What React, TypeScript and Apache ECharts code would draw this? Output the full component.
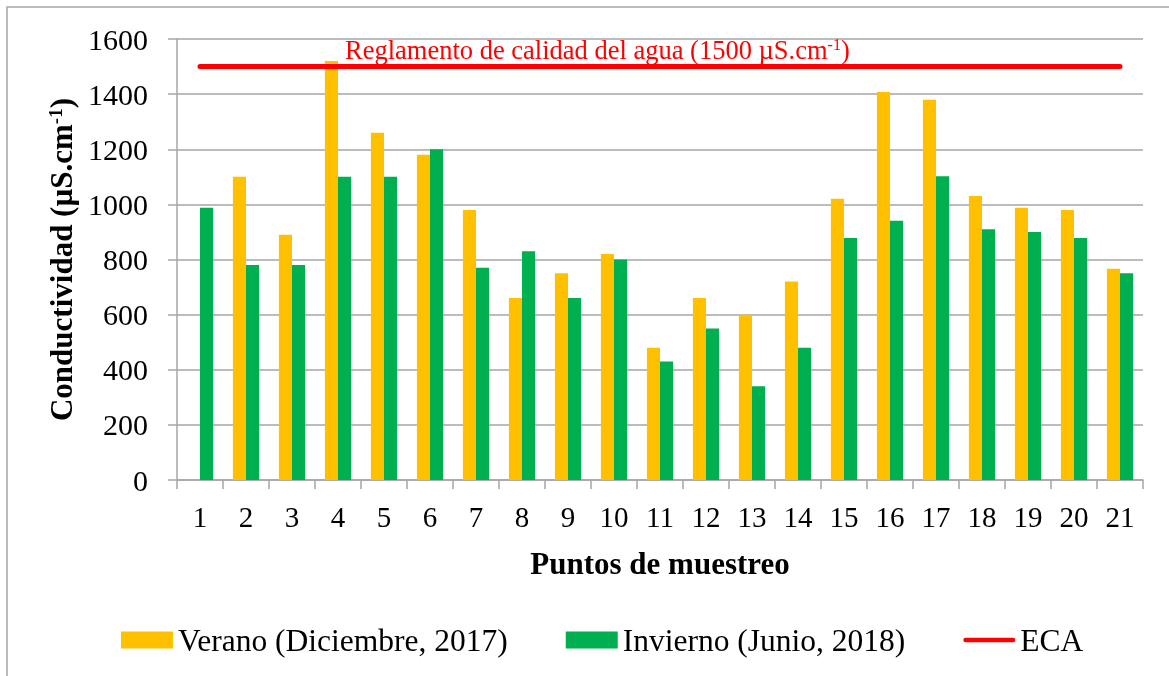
import React, { useEffect, useRef } from "react";
import * as echarts from "echarts";

const categories = ["1","2","3","4","5","6","7","8","9","10","11","12","13","14","15","16","17","18","19","20","21"];
const verano = [null, 1100, 890, 1520, 1260, 1180, 980, 660, 750, 820, 480, 660, 600, 720, 1020, 1408, 1380, 1030, 988, 980, 766];
const invierno = [988, 780, 780, 1100, 1100, 1200, 770, 830, 660, 800, 430, 550, 340, 480, 878, 941, 1102, 910, 900, 878, 750];
const ecaValue = 1500;
const eca = categories.map(() => ecaValue);
const yTicks = { min: 0, max: 1600, interval: 200 };

const FONT = '"Liberation Serif", "Times New Roman", serif';
const LINE_ICON = "path://M0,0 L0,0 M0,6 L52,6 A2.5,2.5 0 0 1 52,11 L0,11 A2.5,2.5 0 0 1 0,6 Z M52,17 L52,17";

export default function App() {
  const ref = useRef<HTMLDivElement>(null);
  useEffect(() => {
    if (!ref.current) return;
    const chart = echarts.init(ref.current, undefined, { renderer: "svg" });
    chart.setOption({
      animation: false,
      textStyle: { fontFamily: FONT, color: "#000" },
      grid: { left: 177, right: 26, top: 39, bottom: 196 },
      legend: {
        left: 116,
        top: 619,
        itemWidth: 52,
        itemHeight: 17,
        itemGap: 58,
        textStyle: { fontFamily: FONT, fontSize: 31.5, color: "#000" },
        data: [
          { name: "Verano (Diciembre, 2017)", icon: "rect" },
          { name: "Invierno (Junio, 2018)", icon: "rect" },
          { name: "ECA", icon: LINE_ICON },
        ],
      },
      xAxis: {
        type: "category",
        data: categories,
        boundaryGap: true,
        name: "Puntos de muestreo",
        nameLocation: "middle",
        nameGap: 68,
        nameTextStyle: { fontFamily: FONT, fontSize: 31, fontWeight: "bold", color: "#000" },
        axisLine: { show: true, lineStyle: { color: "#A6A6A6", width: 1.5 } },
        axisTick: { show: true, alignWithLabel: false, length: 9, lineStyle: { color: "#A6A6A6", width: 1.5 } },
        axisLabel: { fontFamily: FONT, fontSize: 29, color: "#000", margin: 22 },
      },
      yAxis: {
        type: "value",
        min: yTicks.min,
        max: yTicks.max,
        interval: yTicks.interval,
        name: "Conductividad (µS.cm{sup|-1})",
        nameLocation: "middle",
        nameGap: 98,
        nameTextStyle: {
          fontFamily: FONT,
          fontSize: 31,
          fontWeight: "bold",
          color: "#000",
          rich: {
            sup: { fontFamily: FONT, fontSize: 19, fontWeight: "bold", color: "#000", verticalAlign: "top", padding: [0, 0, 12, 0] },
          },
        },
        axisLine: { show: true, lineStyle: { color: "#A6A6A6", width: 1.5 } },
        axisTick: { show: true, length: 9, lineStyle: { color: "#A6A6A6", width: 1.5 } },
        splitLine: { show: true, lineStyle: { color: "#A6A6A6", width: 1.5 } },
        axisLabel: { fontFamily: FONT, fontSize: 30, color: "#000", margin: 29, formatter: (v: number) => String(v) },
      },
      series: [
        {
          name: "Verano (Diciembre, 2017)",
          type: "bar",
          data: verano,
          barGap: "0%",
          barCategoryGap: "43%",
          itemStyle: { color: "#FFC000" },
        },
        {
          name: "Invierno (Junio, 2018)",
          type: "bar",
          data: invierno,
          barGap: "0%",
          barCategoryGap: "43%",
          itemStyle: { color: "#00B050" },
        },
        {
          name: "ECA",
          type: "line",
          data: eca,
          symbol: "none",
          lineStyle: { color: "#FF0000", width: 5, cap: "round" },
          itemStyle: { color: "#FF0000" },
          z: 5,
        },
      ],
      graphic: [
        {
          type: "rect",
          shape: { x: 7, y: 7, width: 1200, height: 700 },
          style: { fill: "none", stroke: "#A6A6A6", lineWidth: 1.5 },
          silent: true,
        },
        {
          type: "text",
          left: 345,
          top: 36,
          z: 10,
          style: {
            text: "Reglamento de calidad del agua (1500 µS.cm{sup|-1})",
            fontFamily: FONT,
            fontSize: 26.5,
            fill: "#FF0000",
            rich: {
              sup: { fontFamily: FONT, fontSize: 16, fill: "#FF0000", verticalAlign: "top", padding: [0, 0, 10, 0] },
            },
          },
        },
      ],
    });
    return () => chart.dispose();
  }, []);
  return <div ref={ref} style={{ position: "fixed", left: 0, top: 0, width: 1169, height: 676 }} />;
}
